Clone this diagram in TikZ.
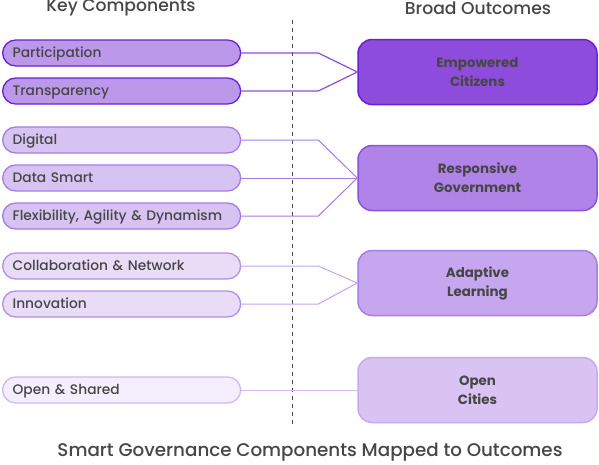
\documentclass[tikz,border=0pt]{standalone}
\usepackage{fontspec}
\setmainfont{Poppins}[UprightFont=* Medium, BoldFont=* Bold]
\definecolor{txt}{HTML}{464646}
\definecolor{aL}{HTML}{BC98EA}\definecolor{aLb}{HTML}{6B21D1}
\definecolor{aR}{HTML}{8D4CDC}\definecolor{aRb}{HTML}{6B21D1}\definecolor{aC}{HTML}{8D4CDC}
\definecolor{bL}{HTML}{D7C3F2}\definecolor{bLb}{HTML}{A77BE6}
\definecolor{bR}{HTML}{B083E8}\definecolor{bRb}{HTML}{8C50DC}\definecolor{bC}{HTML}{A77BE6}
\definecolor{cL}{HTML}{E8DCF7}\definecolor{cLb}{HTML}{B48CEA}
\definecolor{cR}{HTML}{C6A6EE}\definecolor{cRb}{HTML}{A87DE6}\definecolor{cC}{HTML}{C4A4EE}
\definecolor{dL}{HTML}{F5EFFD}\definecolor{dLb}{HTML}{D2B7F4}
\definecolor{dR}{HTML}{D9C3F3}\definecolor{dRb}{HTML}{C8A8EF}\definecolor{dC}{HTML}{D2B7F4}
\tikzset{
  lbox/.style={rectangle, rounded corners=13pt, line width=1.3pt, anchor=west,
    text width=218pt, inner xsep=10pt, inner ysep=0pt, minimum height=26pt, align=left,
    text height=9.6pt, text depth=0pt,
    font=\fontsize{13.8}{16}\selectfont, text=txt},
  rbox/.style={rectangle, rounded corners=14pt, line width=1.5pt, anchor=center,
    minimum width=239pt, minimum height=65pt, align=center, inner sep=0pt,
    font=\fontsize{13.4}{19}\selectfont\bfseries, text=txt},
  conn/.style={line width=1pt},
  head/.style={font=\fontsize{17.2}{20}\selectfont, text=txt, inner sep=0pt}
}
\begin{document}
\begin{tikzpicture}[x=1pt,y=-1pt]
\useasboundingbox (0,0) rectangle (599,464);
\node[head] (hk) at (121,8) {Key Components};
\node[head] (hb) at (478,8) {Broad Outcomes};
\coordinate (dtop) at (292,20);
\coordinate (dbot) at (292,425);
\draw[txt, line width=0.9pt, dash pattern=on 4pt off 4pt] (dtop) -- (dbot);
% right boxes
\node[rbox, fill=aR, draw=aRb] (e) at (477.5,72) {Empowered\\Citizens};
\node[rbox, fill=bR, draw=bRb] (r) at (477.5,178) {Responsive\\Government};
\node[rbox, fill=cR, draw=cRb] (a) at (477.5,283) {Adaptive\\Learning};
\node[rbox, fill=dR, draw=dRb] (o) at (477.5,390) {Open\\Cities};
% left boxes
\node[lbox, fill=aL, draw=aLb] (p) at (2,53) {Participation};
\node[lbox, fill=aL, draw=aLb] (t) at (2,91) {Transparency};
\node[lbox, fill=bL, draw=bLb] (dg) at (2,140) {Digital};
\node[lbox, fill=bL, draw=bLb] (ds) at (2,178) {Data Smart};
\node[lbox, fill=bL, draw=bLb] (fl) at (2,216) {Flexibility, Agility \& Dynamism};
\node[lbox, fill=cL, draw=cLb] (co) at (2,266) {Collaboration \& Network};
\node[lbox, fill=cL, draw=cLb] (in) at (2,304) {Innovation};
\node[lbox, fill=dL, draw=dLb] (os) at (2,390) {Open \& Shared};
% connectors
\draw[conn, aC, line width=1.2pt] (p.east) -- ++(77,0) -- (e.west);
\draw[conn, aC, line width=1.2pt] (t.east) -- ++(77,0) -- (e.west);
\draw[conn, bC] (dg.east) -- ++(77,0) -- (r.west);
\draw[conn, bC] (ds.east) -- (r.west);
\draw[conn, bC] (fl.east) -- ++(77,0) -- (r.west);
\draw[conn, cC] (co.east) -- ++(77,0) -- (a.west);
\draw[conn, cC] (in.east) -- ++(77,0) -- (a.west);
\draw[conn, dC] (os.east) -- (o.west);
\node[head, font=\fontsize{18.3}{20}\selectfont] (title) at (310,452) {Smart Governance Components Mapped to Outcomes};
\end{tikzpicture}
\end{document}
